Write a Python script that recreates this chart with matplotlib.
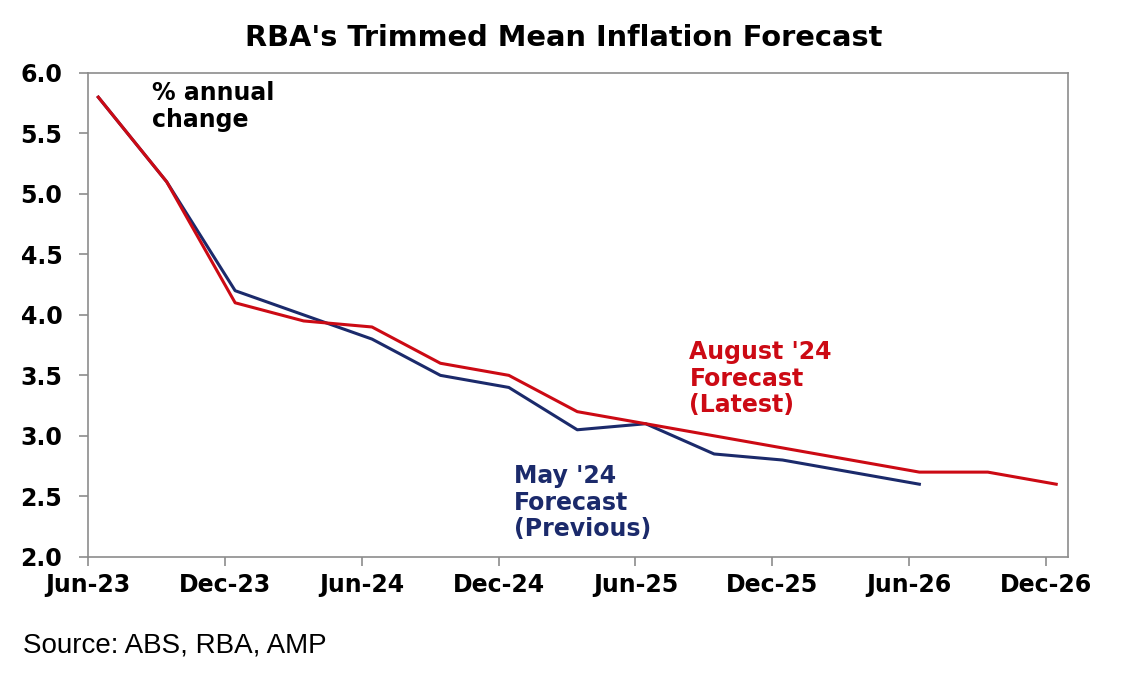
import numpy as np
import matplotlib
matplotlib.use("Agg")
import matplotlib.pyplot as plt

plt.rcParams['font.family'] = ['DejaVu Sans']

# quarterly points, Jun-23 .. Dec-26
quarters = ['Jun-23', 'Sep-23', 'Dec-23', 'Mar-24', 'Jun-24', 'Sep-24', 'Dec-24', 'Mar-25',
            'Jun-25', 'Sep-25', 'Dec-25', 'Mar-26', 'Jun-26', 'Sep-26', 'Dec-26']
aug24 = [5.8, 5.1, 4.1, 3.95, 3.9, 3.6, 3.5, 3.2, 3.1, 3.0, 2.9, 2.8, 2.7, 2.7, 2.6]
may24 = [5.8, 5.1, 4.2, 4.0, 3.8, 3.5, 3.4, 3.05, 3.1, 2.85, 2.8, 2.7, 2.6]
tick_labels = ['Jun-23', 'Dec-23', 'Jun-24', 'Dec-24', 'Jun-25', 'Dec-25', 'Jun-26', 'Dec-26']

red = '#CC0A14'
navy = '#1B2A6B'
grey = '#8C8C8C'

fig = plt.figure(figsize=(11.36, 6.79), dpi=100)
ax = fig.add_axes([0.0775, 0.18, 0.8625, 0.7125])

x_aug = np.arange(len(aug24))
x_may = np.arange(len(may24))
ax.plot(x_may, may24, color=navy, lw=2.2)
ax.plot(x_aug, aug24, color=red, lw=2.2)

# month labels sit a little before the data points
off = 0.15
ax.set_xticks(np.arange(0, len(quarters), 2) - off)
ax.set_xticklabels(tick_labels)
ax.set_xlim(-off, 14.17)
ax.set_ylim(2.0, 6.0)
ax.set_yticks(np.arange(2.0, 6.01, 0.5))
ax.set_yticklabels([f'{v:.1f}' for v in np.arange(2.0, 6.01, 0.5)])

for s in ax.spines.values():
    s.set_color(grey)
    s.set_linewidth(1.2)
ax.tick_params(axis='both', colors=grey, length=6.5, width=1.2, direction='out')
ax.tick_params(axis='x', pad=5)
ax.tick_params(axis='y', pad=12)
for lbl in ax.get_xticklabels() + ax.get_yticklabels():
    lbl.set_color('black')
    lbl.set_fontsize(17)
    lbl.set_fontweight('bold')

ax.text(0.78, 5.93, '% annual\nchange', fontsize=17, fontweight='bold', va='top',
        ha='left', linespacing=1.13)
ax.text(8.64, 3.79, "August '24\nForecast\n(Latest)", fontsize=17, fontweight='bold',
        color=red, va='top', ha='left', linespacing=1.13)
ax.text(6.07, 2.765, "May '24\nForecast\n(Previous)", fontsize=17, fontweight='bold',
        color=navy, va='top', ha='left', linespacing=1.13)

fig.text(0.496, 0.944, "RBA's Trimmed Mean Inflation Forecast", fontsize=20.8,
         fontweight='bold', ha='center', va='center')
fig.text(0.02, 0.05, 'Source: ABS, RBA, AMP', fontsize=20, ha='left', va='center',
         family='Liberation Sans')

fig.savefig('out.png', dpi=100)
